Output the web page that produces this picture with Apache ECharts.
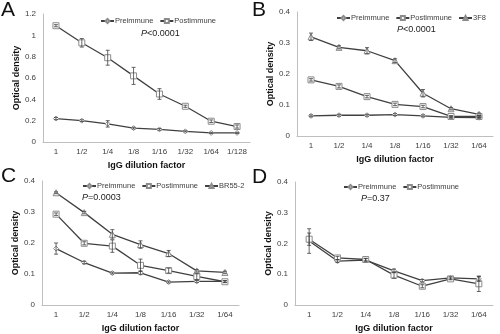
<!DOCTYPE html>
<html>
<head>
<meta charset="utf-8">
<script src="https://cdn.jsdelivr.net/npm/echarts@6/dist/echarts.min.js"></script>
<style>
  html, body { margin: 0; padding: 0; background: #fff; }
  #chart { width: 500px; height: 334px; }
</style>
</head>
<body>
<div id="chart"></div>
<script>
// dilution categories
const dilutionsA = ["1", "1/2", "1/4", "1/8", "1/16", "1/32", "1/64", "1/128"];
const dilutions = ["1", "1/2", "1/4", "1/8", "1/16", "1/32", "1/64"];

// panel A
const preA = [0.22, 0.2, 0.17, 0.13, 0.118, 0.1, 0.085, 0.085];
const preAErr = [0.01, 0.008, 0.03, 0.008, 0.008, 0.005, 0.005, 0.005];
const postA = [1.09, 0.93, 0.79, 0.62, 0.45, 0.335, 0.195, 0.145];
const postAErr = [0.01, 0.04, 0.07, 0.08, 0.05, 0.01, 0.012, 0.015];

// panel B
const preB = [0.065, 0.067, 0.067, 0.069, 0.065, 0.06, 0.059];
const preBErr = [0.003, 0.003, 0.003, 0.003, 0.003, 0.003, 0.003];
const postB = [0.181, 0.16, 0.127, 0.102, 0.095, 0.063, 0.063];
const postBErr = [0.004, 0.005, 0.004, 0.004, 0.004, 0.003, 0.003];
const f3B = [0.32, 0.286, 0.275, 0.243, 0.138, 0.088, 0.07];
const f3BErr = [0.012, 0.005, 0.01, 0.006, 0.012, 0.004, 0.004];

// panel C
const preC = [0.182, 0.137, 0.103, 0.104, 0.074, 0.076, 0.076];
const preCErr = [0.018, 0.004, 0.003, 0.006, 0.003, 0.003, 0.003];
const postC = [0.293, 0.199, 0.19, 0.128, 0.111, 0.092, 0.075];
const postCErr = [0.004, 0.005, 0.02, 0.02, 0.008, 0.01, 0.003];
const brC = [0.362, 0.298, 0.228, 0.195, 0.166, 0.11, 0.105];
const brCErr = [0.003, 0.004, 0.015, 0.012, 0.01, 0.004, 0.004];

// panel D
const preD = [0.208, 0.143, 0.146, 0.111, 0.079, 0.088, 0.085];
const preDErr = [0.04, 0.005, 0.005, 0.006, 0.004, 0.004, 0.008];
const postD = [0.214, 0.153, 0.148, 0.097, 0.061, 0.085, 0.069];
const postDErr = [0.02, 0.005, 0.004, 0.01, 0.005, 0.003, 0.025];

const lineColor = "#404040";
const markColor = "#8c8c8c";
const font = "Liberation Sans, Arial, sans-serif";

const chart = echarts.init(document.getElementById("chart"), null, { renderer: "canvas" });

const grids = [
    { left: 43, top: 14, width: 207, height: 128 },
    { left: 297, top: 12, width: 196, height: 124 },
    { left: 42, top: 181, width: 197, height: 126 },
    { left: 295, top: 182, width: 198, height: 126 },
];

function xAxis(i, cats) {
    return {
        type: "category",
        gridIndex: i,
        data: cats,
        boundaryGap: true,
        axisLine: { lineStyle: { color: "#bfbfbf" } },
        axisTick: { show: false },
        axisLabel: { interval: 0, color: "#404040", fontSize: 8, fontFamily: font, margin: 6 },
        name: "IgG dilution factor",
        nameLocation: "middle",
        nameGap: 19,
        nameTextStyle: { color: "#111", fontSize: 9, fontWeight: "bold", fontFamily: font },
    };
}

function yAxis(i, max, interval) {
    return {
        type: "value",
        gridIndex: i,
        min: 0,
        max: max,
        interval: interval,
        splitLine: { show: false },
        axisLine: { show: true, lineStyle: { color: "#bfbfbf" } },
        axisTick: { show: false },
        axisLabel: { color: "#404040", fontSize: 8, fontFamily: font, margin: 7 },
        name: "Optical density",
        nameLocation: "middle",
        nameRotate: 90,
        nameGap: 22,
        nameTextStyle: { color: "#111", fontSize: 9, fontWeight: "bold", fontFamily: font },
    };
}

const symbols = { Preimmune: "diamond", Postimmune: "rect", "3F8": "triangle", "BR55-2": "triangle" };

function lineSeries(name, i, values) {
    return {
        name: name,
        type: "line",
        xAxisIndex: i,
        yAxisIndex: i,
        data: values,
        symbol: symbols[name],
        symbolSize: name === "Preimmune" ? 5 : 6,
        lineStyle: { color: lineColor, width: 1.3 },
        itemStyle: { color: "#fff", borderColor: markColor, borderWidth: 1 },
        z: 3,
        animation: false,
    };
}

function errorSeries(i, values, errs) {
    return {
        type: "custom",
        xAxisIndex: i,
        yAxisIndex: i,
        data: values.map((v, k) => [k, v, errs[k]]),
        renderItem: (params, api) => {
            const top = api.coord([api.value(0), api.value(1) + api.value(2)]);
            const bot = api.coord([api.value(0), api.value(1) - api.value(2)]);
            const w = 2;
            const style = { stroke: lineColor, lineWidth: 0.8 };
            return {
                type: "group",
                children: [
                    { type: "line", shape: { x1: top[0], y1: top[1], x2: bot[0], y2: bot[1] }, style },
                    { type: "line", shape: { x1: top[0] - w, y1: top[1], x2: top[0] + w, y2: top[1] }, style },
                    { type: "line", shape: { x1: bot[0] - w, y1: bot[1], x2: bot[0] + w, y2: bot[1] }, style },
                ],
            };
        },
        z: 4,
        silent: true,
        animation: false,
    };
}

function legend(names, left, top) {
    return {
        data: names,
        left: left,
        top: top,
        width: 220,
        itemWidth: 13,
        itemHeight: 5,
        itemGap: 6,
        selectedMode: false,
        textStyle: { color: "#404040", fontSize: 7.5, fontFamily: font, padding: [0, 0, 0, -4] },
        padding: 0,
    };
}

function letter(text, left, top) {
    return { text: text, left: left, top: top, padding: 0, textStyle: { fontSize: 21, fontWeight: "normal", color: "#111", fontFamily: font } };
}

function pValue(op, num, left, top) {
    return {
        text: "{i|P}{n|" + op + num + "}",
        left: left,
        top: top,
        padding: 0,
        textStyle: {
            fontWeight: "normal",
            rich: {
                i: { fontStyle: "italic", fontWeight: "normal", fontSize: 9, color: "#222", fontFamily: font },
                n: { fontWeight: "normal", fontSize: 9, color: "#222", fontFamily: font },
            },
        },
    };
}

const option = {
    animation: false,
    textStyle: { fontFamily: font },
    title: [
        letter("A", 1, 0),
        letter("B", 252, 0),
        letter("C", 1, 166),
        letter("D", 252, 167),
        pValue("<", "0.0001", 141, 29),
        pValue("<", "0.0001", 397, 25),
        pValue("=", "0.0003", 82, 193),
        pValue("=", "0.37", 361, 194),
    ],
    legend: [
        legend(["Preimmune", "Postimmune"], 100, 17),
        legend(["Preimmune", "Postimmune", "3F8"], 336, 14),
        legend(["Preimmune", "Postimmune", "BR55-2"], 82, 182),
        legend(["Preimmune", "Postimmune"], 343, 183),
    ],
    grid: grids,
    xAxis: [xAxis(0, dilutionsA), xAxis(1, dilutions), xAxis(2, dilutions), xAxis(3, dilutions)],
    yAxis: [yAxis(0, 1.2, 0.2), yAxis(1, 0.4, 0.1), yAxis(2, 0.4, 0.1), yAxis(3, 0.4, 0.1)],
    series: [
        lineSeries("Preimmune", 0, preA),
        lineSeries("Postimmune", 0, postA),
        errorSeries(0, preA, preAErr),
        errorSeries(0, postA, postAErr),

        lineSeries("Preimmune", 1, preB),
        lineSeries("Postimmune", 1, postB),
        lineSeries("3F8", 1, f3B),
        errorSeries(1, preB, preBErr),
        errorSeries(1, postB, postBErr),
        errorSeries(1, f3B, f3BErr),

        lineSeries("Preimmune", 2, preC),
        lineSeries("Postimmune", 2, postC),
        lineSeries("BR55-2", 2, brC),
        errorSeries(2, preC, preCErr),
        errorSeries(2, postC, postCErr),
        errorSeries(2, brC, brCErr),

        lineSeries("Preimmune", 3, preD),
        lineSeries("Postimmune", 3, postD),
        errorSeries(3, preD, preDErr),
        errorSeries(3, postD, postDErr),
    ],
};

chart.setOption(option);
</script>
</body>
</html>
